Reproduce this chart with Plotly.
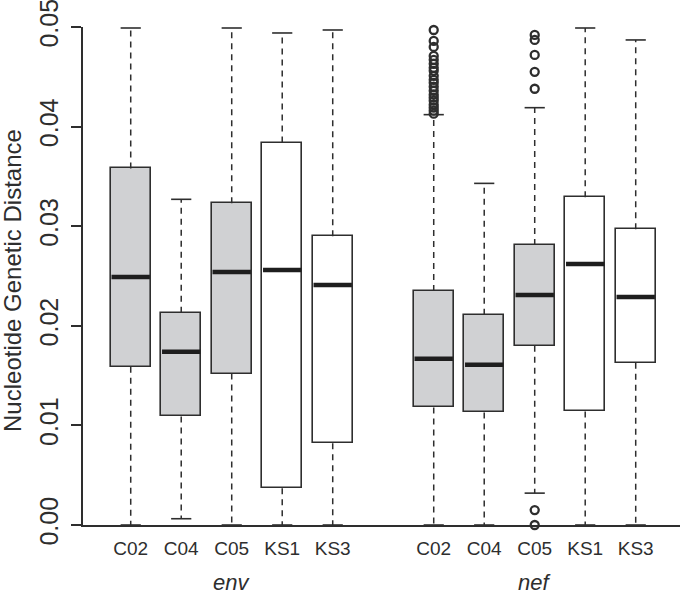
import plotly.graph_objects as go

# ---- data ----
categories = ["C02", "C04", "C05", "KS1", "KS3"]
genes = ["env", "nef"]

env_lower = [0.0, 0.00063, 0.0, 0.0, 0.0]
env_q1 = [0.0159, 0.0109, 0.0152, 0.0037, 0.0082]
env_median = [0.0249, 0.0174, 0.0254, 0.0256, 0.0241]
env_q3 = [0.0358, 0.0213, 0.0323, 0.0384, 0.0290]
env_upper = [0.0499, 0.0327, 0.0499, 0.0494, 0.0497]

nef_lower = [0.0, 0.0, 0.0032, 0.0, 0.0]
nef_q1 = [0.0118, 0.0113, 0.0180, 0.0114, 0.0163]
nef_median = [0.0167, 0.0161, 0.0231, 0.0262, 0.0229]
nef_q3 = [0.0235, 0.0211, 0.0281, 0.0329, 0.0297]
nef_upper = [0.0412, 0.0343, 0.0419, 0.0499, 0.0487]

nef_C02_outliers = [0.0497, 0.0486, 0.0480, 0.0471, 0.0467, 0.0463, 0.0459,
                    0.0456, 0.0451, 0.0447, 0.0444, 0.0440, 0.0436, 0.0432,
                    0.0429, 0.0426, 0.0422, 0.0419, 0.0416, 0.0413]
nef_C05_outliers = [0.0492, 0.0487, 0.0472, 0.0455, 0.0438, 0.0015, 0.0]

y_ticks = [0.00, 0.01, 0.02, 0.03, 0.04, 0.05]
y_title = "Nucleotide Genetic Distance"

# ---- styling ----
fill_colors = ["#d0d1d3", "#d0d1d3", "#d0d1d3", "#ffffff", "#ffffff"]
ink = "#2e2e2e"
font_family = "Liberation Sans, Arial, sans-serif"
box_w = 0.8
cap_w = 0.4

# positions: env at 1..5, nef at 7..11 (one empty slot between groups)
env_pos = [i + 1 for i in range(len(categories))]
nef_pos = [i + 7 for i in range(len(categories))]

pos = env_pos + nef_pos
lower = env_lower + nef_lower
q1 = env_q1 + nef_q1
med = env_median + nef_median
q3 = env_q3 + nef_q3
upper = env_upper + nef_upper
fills = fill_colors + fill_colors
labels = categories + categories

fig = go.Figure()

# whiskers (dashed)
wx, wy = [], []
for p, lo, a, b, hi in zip(pos, lower, q1, q3, upper):
    wx += [p, p, None, p, p, None]
    wy += [b, hi, None, a, lo, None]
fig.add_trace(go.Scatter(x=wx, y=wy, mode="lines",
                         line=dict(color=ink, width=1.5, dash="6px,5px"),
                         hoverinfo="skip", showlegend=False, cliponaxis=False))

# caps
cx, cy = [], []
for p, lo, hi in zip(pos, lower, upper):
    cx += [p - cap_w / 2, p + cap_w / 2, None, p - cap_w / 2, p + cap_w / 2, None]
    cy += [hi, hi, None, lo, lo, None]
fig.add_trace(go.Scatter(x=cx, y=cy, mode="lines",
                         line=dict(color=ink, width=1.6),
                         hoverinfo="skip", showlegend=False, cliponaxis=False))

# boxes
fig.add_trace(go.Bar(x=pos, base=q1, y=[b - a for a, b in zip(q1, q3)],
                     width=box_w,
                     marker=dict(color=fills, line=dict(color=ink, width=1.6)),
                     hoverinfo="skip", showlegend=False))

# medians
mx, my = [], []
for p, m in zip(pos, med):
    mx += [p - box_w / 2 + 0.02, p + box_w / 2 - 0.02, None]
    my += [m, m, None]
fig.add_trace(go.Scatter(x=mx, y=my, mode="lines",
                         line=dict(color="#1e1e1e", width=4.5),
                         hoverinfo="skip", showlegend=False, cliponaxis=False))

# outliers
ox = [nef_pos[0]] * len(nef_C02_outliers) + [nef_pos[2]] * len(nef_C05_outliers)
oy = nef_C02_outliers + nef_C05_outliers
fig.add_trace(go.Scatter(x=ox, y=oy, mode="markers",
                         marker=dict(symbol="circle-open", size=8, color=ink,
                                     line=dict(width=2.3, color=ink)),
                         hoverinfo="skip", showlegend=False, cliponaxis=False))

# group labels
for g, pset in zip(genes, [env_pos, nef_pos]):
    fig.add_annotation(x=pset[2], y=0, xref="x", yref="paper",
                       text="<i>" + g + "</i>", showarrow=False,
                       yshift=-57, font=dict(size=22, color=ink, family=font_family),
                       yanchor="middle")

# y title
fig.add_annotation(x=-70 / 597, y=0.49, xref="paper", yref="paper",
                   text=y_title, textangle=-90, showarrow=False,
                   xanchor="center", yanchor="middle",
                   font=dict(size=24, color=ink, family=font_family))

fig.update_layout(
    width=680, height=597, autosize=False,
    margin=dict(l=83, r=0, t=27, b=72),
    paper_bgcolor="white", plot_bgcolor="white",
    barmode="overlay", bargap=0,
    font=dict(family=font_family, color=ink, size=18),
    xaxis=dict(range=[0.055, 11.877], tickvals=pos, ticktext=labels,
               showline=True, linecolor=ink, linewidth=1.5,
               ticks="", showgrid=False, zeroline=False, automargin=False,
               ticklabelstandoff=5,
               tickfont=dict(size=19, color=ink, family=font_family)),
    yaxis=dict(range=[0, 0.05], tickvals=y_ticks,
               ticktext=["%.2f" % v for v in y_ticks],
               tickangle=-90, ticks="outside", ticklen=10, tickwidth=1.5,
               tickcolor=ink, showline=True, linecolor=ink, linewidth=1.5,
               showgrid=False, zeroline=False, automargin=False,
               ticklabelstandoff=3, ticklabeloverflow="allow",
               tickfont=dict(size=25, color=ink, family=font_family)),
)

fig.write_html("out.html",
               config={"displayModeBar": False},
               post_script="document.body.style.margin='0';"
                           "document.body.style.padding='0';")
